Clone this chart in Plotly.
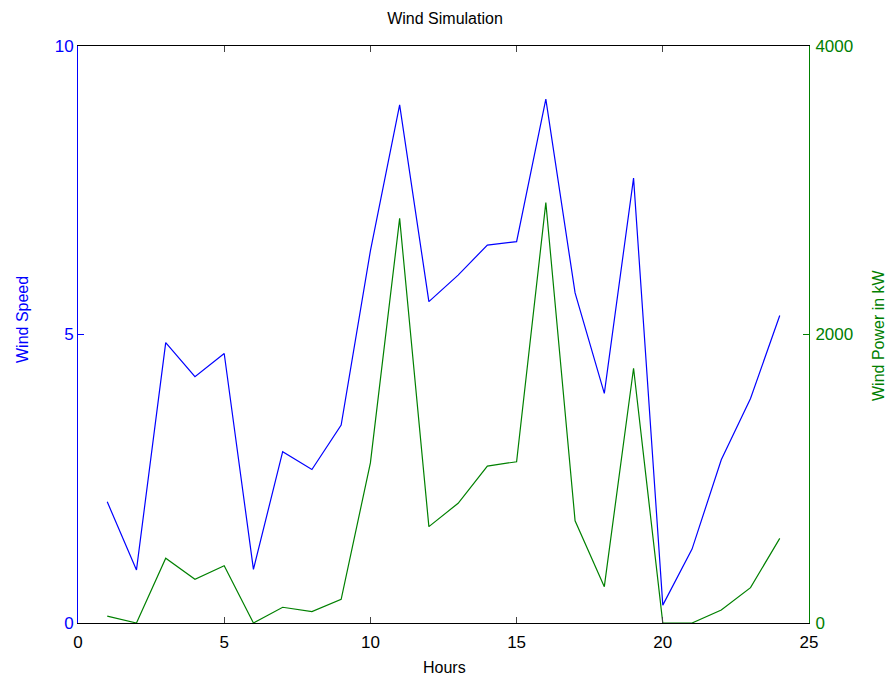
import plotly.graph_objects as go

hours = list(range(1, 25))
wind_speed = [2.10, 0.92, 4.86, 4.27, 4.67, 0.93, 2.97, 2.66, 3.43, 6.45,
              8.98, 5.57, 6.03, 6.55, 6.61, 9.08, 5.72, 3.98, 7.71, 0.31,
              1.28, 2.83, 3.89, 5.33]
wind_power = [48, 0, 449, 303, 397, 0, 109, 79, 164, 1110,
              2805, 668, 830, 1088, 1118, 2914, 709, 252, 1766, 0,
              0, 90, 245, 587]

x_ticks = [0, 5, 10, 15, 20, 25]
speed_ticks = [0, 5, 10]
power_ticks = [0, 2000, 4000]

BLUE = "#0000FF"
GREEN = "#008000"
FONT = "Liberation Sans, Arial, sans-serif"

fig = go.Figure()
fig.add_trace(go.Scatter(x=hours, y=wind_speed, mode="lines",
                         line=dict(color=BLUE, width=1.2), name="Wind Speed",
                         yaxis="y"))
fig.add_trace(go.Scatter(x=hours, y=wind_power, mode="lines",
                         line=dict(color=GREEN, width=1.2), name="Wind Power",
                         yaxis="y2"))

fig.update_layout(
    width=890, height=682,
    margin=dict(l=78, r=81, t=46, b=59, pad=0),
    paper_bgcolor="white", plot_bgcolor="white",
    showlegend=False,
    font=dict(family=FONT, size=16, color="black"),
    title=dict(text="Wind Simulation", x=0.5, xanchor="center",
               y=1 - 18 / 682, yanchor="middle",
               font=dict(family=FONT, size=16, color="black")),
    xaxis=dict(range=[0, 25], tickvals=x_ticks, ticks="inside", ticklen=6,
               showline=True, linecolor="black", linewidth=1, mirror="ticks",
               showgrid=False, zeroline=False, ticklabelstandoff=4,
               automargin=False,
               tickfont=dict(family=FONT, size=17, color="black")),
    yaxis=dict(range=[0, 10], tickvals=speed_ticks, ticks="inside", ticklen=6,
               tickcolor=BLUE, showline=True, linecolor=BLUE, linewidth=1,
               showgrid=False, zeroline=False, automargin=False,
               tickfont=dict(family=FONT, size=17, color=BLUE)),
    yaxis2=dict(range=[0, 4000], tickvals=power_ticks, ticks="inside", ticklen=6,
                tickcolor=GREEN, showline=True, linecolor=GREEN, linewidth=1,
                overlaying="y", side="right", ticklabelstandoff=2,
                showgrid=False, zeroline=False, automargin=False,
                tickfont=dict(family=FONT, size=17, color=GREEN)),
    annotations=[
        dict(text="Hours", x=445, y=667, xref="paper", yref="paper",
             xanchor="center", yanchor="middle",
             showarrow=False, font=dict(family=FONT, size=16, color="black")),
        dict(text="Wind Speed", textangle=-90, x=22, y=320, xref="paper", yref="paper",
             xanchor="center", yanchor="middle",
             showarrow=False, font=dict(family=FONT, size=16, color=BLUE)),
        dict(text="Wind Power in kW", textangle=-90, x=878, y=335, xref="paper", yref="paper",
             xanchor="center", yanchor="middle",
             showarrow=False, font=dict(family=FONT, size=16, color=GREEN)),
    ],
)

# convert pixel-based annotation positions to paper coordinates
pw = 890 - 78 - 81
ph = 682 - 46 - 59
for a in fig.layout.annotations:
    px, py = a.x, a.y
    a.x = (px - 78) / pw
    a.y = (682 - 59 - py) / ph

fig.write_html("out.html")
